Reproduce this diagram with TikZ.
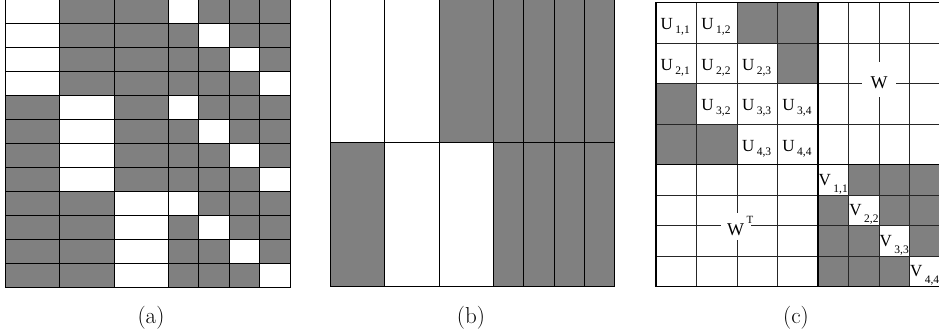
\documentclass[tikz,border=0pt]{standalone}
\usepackage{fontspec}
\newfontfamily\timesf{Liberation Serif}
\newcommand\mylbl[3]{#1\kern2.5pt\raisebox{-#3}{\fontsize{11.5}{12}\selectfont #2}}
\begin{document}
\begin{tikzpicture}[x=1pt,y=-1pt,
  cell/.style={draw=black,line width=0.8pt},
  gridcell/.style={draw=black!85,line width=0.6pt},
  blk/.style={draw=black,line width=1.1pt},
  lab/.style={font=\timesf\fontsize{17}{17}\selectfont,inner sep=0pt,anchor=base west},
  wlab/.style={font=\timesf\fontsize{18}{18}\selectfont,fill=white,inner ysep=0pt,anchor=base},
  suplab/.style={font=\timesf\fontsize{11}{11}\selectfont,inner sep=0pt,anchor=base west},
  captext/.style={font=\fontsize{23}{23}\selectfont,inner sep=0pt,anchor=base}]
\useasboundingbox (0,0) rectangle (939,333);
% ---------- panel (a)
\def\ax{{5,59.5,114,168.3,198.7,229,259.5,290}}
\foreach \r in {0,...,11}{
  \foreach \c in {0,...,6}{
    \pgfmathsetmacro\xa{\ax[\c]}
    \pgfmathsetmacro\xb{\ax[\c+1]}
    \pgfmathsetmacro\ya{-1+24*\r}
    \pgfmathsetmacro\yb{23+24*\r}
    \pgfmathtruncatemacro\grp{floor(\r/4)}
    \pgfmathtruncatemacro\ii{mod(\r,4)}
    \pgfmathtruncatemacro\isw{ifthenelse(\c<3,\c==\grp,\c-3==\ii)}
    \ifnum\isw=1 \def\fc{white}\else\def\fc{gray}\fi
    \draw[cell,fill=\fc] (\xa,\ya) rectangle (\xb,\yb);
  }
}
% ---------- panel (b)
\def\bx{{330,384.5,439,493.3,523.7,554,584.5,614.7}}
\foreach \c in {0,...,6}{
  \pgfmathsetmacro\xa{\bx[\c]}
  \pgfmathsetmacro\xb{\bx[\c+1]}
  \pgfmathtruncatemacro\wt{\c<2}
  \pgfmathtruncatemacro\wb{and(\c>0,\c<3)}
  \ifnum\wt=1 \def\fc{white}\else\def\fc{gray}\fi
  \draw[cell,fill=\fc] (\xa,-1) rectangle (\xb,142.7);
  \ifnum\wb=1 \def\fc{white}\else\def\fc{gray}\fi
  \draw[cell,fill=\fc] (\xa,142.7) rectangle (\xb,286.7);
}
\draw[line width=1.5pt] (330,286.7) -- (614.7,286.7);
% ---------- panel (c)
\def\cx{{656,696.7,737.3,777.7,818,848.7,879,909.3,939.8}}
\def\cy{{2.7,43.7,83.7,124,164.3,195,225.7,256,286.3}}
\foreach \r in {0,...,7}{
  \foreach \c in {0,...,7}{
    \pgfmathsetmacro\xa{\cx[\c]}
    \pgfmathsetmacro\xb{\cx[\c+1]}
    \pgfmathsetmacro\ya{\cy[\r]}
    \pgfmathsetmacro\yb{\cy[\r+1]}
    \pgfmathtruncatemacro\isg{or(and(and(\r<4,\c<4),abs(\r-\c)>1),and(and(\r>3,\c>3),\r!=\c))}
    \ifnum\isg=1 \def\fc{gray}\else\def\fc{white}\fi
    \draw[gridcell,fill=\fc] (\xa,\ya) rectangle (\xb,\yb);
  }
}
\draw[blk] (656,2.7) rectangle (939.8,286.3);
\draw[blk] (818,2.7) -- (818,286.3);
\draw[blk] (656,164.3) -- (939.8,164.3);
% U labels
\node[lab] (u11) at (660.5,29.7) {\mylbl{U}{1,1}{4pt}};
\node[lab] (u12) at (701.2,29.7) {\mylbl{U}{1,2}{4pt}};
\node[lab] (u21) at (660.5,70.7) {\mylbl{U}{2,1}{4pt}};
\node[lab] (u22) at (701.2,70.7) {\mylbl{U}{2,2}{4pt}};
\node[lab] (u23) at (741.8,70.7) {\mylbl{U}{2,3}{4pt}};
\node[lab] (u32) at (701.2,110.7) {\mylbl{U}{3,2}{4pt}};
\node[lab] (u33) at (741.8,110.7) {\mylbl{U}{3,3}{4pt}};
\node[lab] (u34) at (782.2,110.7) {\mylbl{U}{3,4}{4pt}};
\node[lab] (u43) at (741.8,151) {\mylbl{U}{4,3}{4pt}};
\node[lab] (u44) at (782.2,151) {\mylbl{U}{4,4}{4pt}};
% V labels
\node[lab] (v11) at (818.5,185) {\mylbl{V}{1,1}{7pt}};
\node[lab] (v22) at (849.2,215.7) {\mylbl{V}{2,2}{7pt}};
\node[lab] (v33) at (879.5,246.3) {\mylbl{V}{3,3}{7pt}};
\node[lab] (v44) at (909.8,276.5) {\mylbl{V}{4,4}{7pt}};
% W labels
\node[wlab,inner xsep=8.5pt,text height=26pt,text depth=9pt] (w) at (879,88) {W};
\node[wlab,inner xsep=6.5pt,text height=22pt,text depth=5pt] (wt) at (735.5,235) {W};
\node[suplab] (wtT) at (746.5,223) {T};
% captions
\node[captext] (capa) at (151,323.5) {(a)};
\node[captext] (capb) at (471,323.5) {(b)};
\node[captext] (capc) at (796,323.5) {(c)};
\end{tikzpicture}
\end{document}
